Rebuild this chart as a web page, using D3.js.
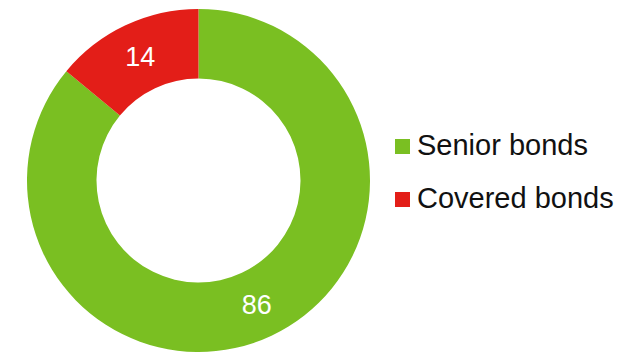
<!DOCTYPE html>
<html>
<head>
<meta charset="utf-8">
<script src="https://cdn.jsdelivr.net/npm/d3@7"></script>
<style>
  body { margin: 0; background: #fff; }
  svg { display: block; font-family: "Liberation Sans", Arial, sans-serif; }
</style>
</head>
<body>
<div id="chart-area"></div>
<script>
const WIDTH = 638;
const HEIGHT = 353;

// data
const categories = ["Senior bonds", "Covered bonds"];
const values = [86, 14];
const colors = ["#7abf22", "#e31e18"];

const cx = 198.5, cy = 180.5;
const outerR = 171.5, innerR = 102;

const color = d3.scaleOrdinal().domain(categories).range(colors);

const pie = d3.pie().sort(null).value(d => d.value);
const arc = d3.arc().innerRadius(innerR).outerRadius(outerR);

const data = categories.map((c, i) => ({name: c, value: values[i]}));

const svg = d3.select('#chart-area').append('svg')
    .attr("width", WIDTH)
    .attr("height", HEIGHT);

const g = svg.append("g")
    .attr("transform", `translate(${cx},${cy})`);

const slices = g.selectAll()
    .data(pie(data))
    .join("g");

slices.append("path")
    .attr("d", arc)
    .attr("fill", d => color(d.data.name));

slices.append("text")
    .attr("transform", d => `translate(${arc.centroid(d)})`)
    .attr("text-anchor", "middle")
    .attr("dy", "0.36em")
    .attr("fill", "#fff")
    .style("font-size", "27px")
    .text(d => d.data.value);

// legend
const legend = svg.append("g")
    .selectAll()
    .data(categories)
    .join("g")
    .attr("transform", (d, i) => `translate(395,${139 + i * 53})`);

legend.append("rect")
    .attr("width", 15)
    .attr("height", 15)
    .attr("fill", d => color(d));

legend.append("text")
    .attr("x", 22)
    .attr("y", 16)
    .style("font-size", "29px")
    .attr("fill", "#111")
    .text(d => d);
</script>
</body>
</html>
